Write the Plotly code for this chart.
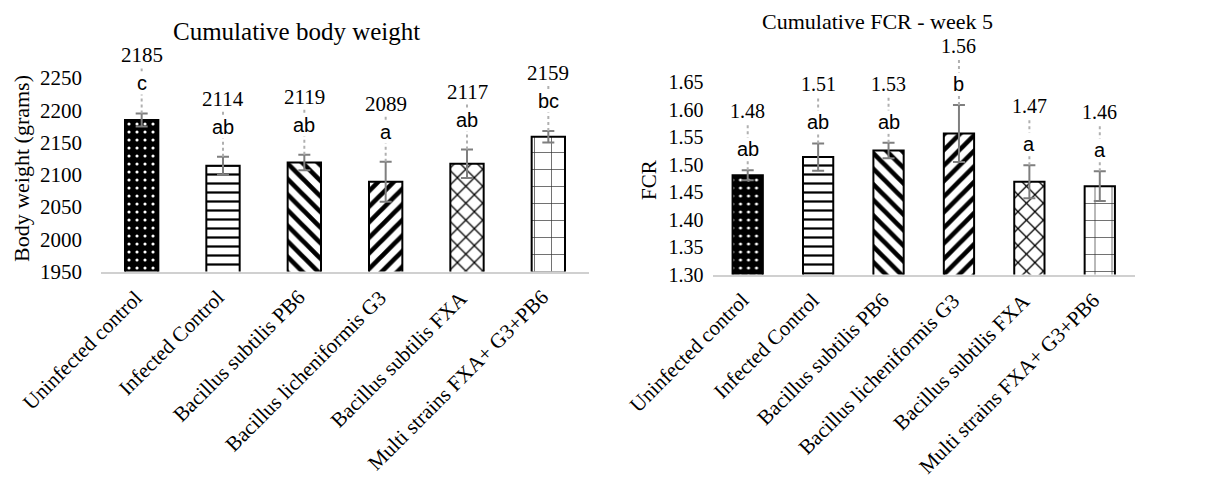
import plotly.graph_objects as go

# ---------------- data ----------------
categories = ["Uninfected control", "Infected Control", "Bacillus subtilis PB6",
              "Bacillus licheniformis G3", "Bacillus subtilis FXA", "Multi strains FXA+ G3+PB6"]

bw_mean = [2185, 2114, 2119, 2089, 2117, 2159]
bw_err = [10, 14, 12, 31, 22, 9]
bw_letters = ["c", "ab", "ab", "a", "ab", "bc"]
bw_ticks = [1950, 2000, 2050, 2100, 2150, 2200, 2250]

fcr_mean = [1.481, 1.514, 1.526, 1.557, 1.469, 1.461]
fcr_err = [0.009, 0.025, 0.014, 0.052, 0.030, 0.027]
fcr_letters = ["ab", "ab", "ab", "b", "a", "a"]
fcr_ticks = [1.30, 1.35, 1.40, 1.45, 1.50, 1.55, 1.60, 1.65]

# ---------------- styles ----------------
OFF = 8                      # page body margin of the html page
W, H = 1226 - OFF, 477 - OFF
SERIF = "Liberation Serif"
SANS = "Liberation Sans"


def px(X):
    return (X - OFF) / W


def py(Y):
    return 1 - (Y - OFF) / H


pat_shape = [".", "-", "\\", "/", "x", "+"]
pat_fg = ["white", "black", "black", "black", "black", "#333333"]
pat_bg = ["black", "white", "white", "white", "white", "white"]
pat_size = [8, 9, 11, 11, 12, 17]
pat_sol = [0.12, 0.25, 0.42, 0.42, 0.2, 0.08]

# pixel geometry of the two panels (reference picture pixels)
L_x0, L_x1, L_base, L_scale = 101, 589, 271.5, 0.645     # px/unit
R_x0, R_x1, R_base, R_scale = 712.5, 1135, 274.5, 548.6

L_range = [1950, 1950 + (L_base - OFF) / L_scale]
R_range = [1.30, 1.30 + (R_base - OFF) / R_scale]

fig = go.Figure()


def add_panel(means, errs, letters, xa, ya, scale, fmt, letter_px, value_px,
              barw, valsize):
    fig.add_trace(go.Bar(
        x=categories, y=means, xaxis=xa, yaxis=ya, width=barw,
        marker=dict(color="white", line=dict(color="black", width=2),
                    pattern=dict(shape=pat_shape, fgcolor=pat_fg, bgcolor=pat_bg,
                                 size=pat_size, solidity=pat_sol, fillmode="replace")),
        error_y=dict(type="data", array=errs, color="#7f7f7f", thickness=2, width=6),
        showlegend=False, hoverinfo="skip"))
    lx, ly = [], []
    for c, m, e, let in zip(categories, means, errs, letters):
        top = m + e
        y_let = top + letter_px / scale
        y_val = y_let + value_px / scale
        lx += [c, c, None]
        ly += [top, y_val - 13 / scale, None]
        fig.add_annotation(x=c, y=y_let, xref=xa, yref=ya, text=let, showarrow=False,
                           xanchor="center", yanchor="middle",
                           font=dict(family=SANS, size=20, color="black"),
                           bgcolor="white", borderpad=0)
        fig.add_annotation(x=c, y=y_val, xref=xa, yref=ya, text=fmt(m), showarrow=False,
                           xanchor="center", yanchor="middle",
                           font=dict(family=SERIF, size=valsize, color="black"))
        # rotated category label, its end placed at the category below the axis
        fig.add_annotation(x=c, y=0, xref=xa, yref=ya + " domain", text=c,
                           showarrow=False, textangle=-45,
                           xanchor="right", yanchor="top", xshift=8, yshift=-11,
                           font=dict(family=SERIF, size=21, color="black"))
    fig.add_trace(go.Scatter(x=lx, y=ly, xaxis=xa, yaxis=ya, mode="lines",
                             line=dict(color="#b0b0b0", width=2, dash="dot"),
                             showlegend=False, hoverinfo="skip"))


add_panel(bw_mean, bw_err, bw_letters, "x", "y", L_scale, lambda v: f"{v:.0f}", 30, 28, 0.41, 21)
add_panel(fcr_mean, fcr_err, fcr_letters, "x2", "y2", R_scale, lambda v: f"{v:.2f}", 21, 38, 0.43, 20)

xcommon = dict(type="category", showline=True, linecolor="#d0d0d0", linewidth=2,
               showgrid=False, zeroline=False, ticks="", showticklabels=False,
               automargin=False)
ycommon = dict(showline=False, showgrid=False, zeroline=False, ticks="",
               automargin=False)

fig.update_layout(
    width=W, height=H, template="none",
    paper_bgcolor="white", plot_bgcolor="rgba(0,0,0,0)",
    margin=dict(l=0, r=0, t=0, b=0),
    xaxis=dict(xcommon, domain=[px(L_x0), px(L_x1)], range=[-0.5, 5.5], anchor="y"),
    yaxis=dict(ycommon, domain=[py(L_base), 1.0], range=L_range, anchor="x",
               tickvals=bw_ticks, ticktext=[f"{t}" for t in bw_ticks],
               tickfont=dict(family=SERIF, size=21, color="black"),
               ticklabelstandoff=18),
    xaxis2=dict(xcommon, domain=[px(R_x0), px(R_x1)], range=[-0.5, 5.5], anchor="y2"),
    yaxis2=dict(ycommon, domain=[py(R_base), 1.0], range=R_range, anchor="x2",
                tickvals=fcr_ticks, ticktext=[f"{t:.2f}" for t in fcr_ticks],
                tickfont=dict(family=SERIF, size=20, color="black"),
                ticklabelstandoff=8),
)

# titles and axis titles
def label(X, Y, text, size, angle=0):
    fig.add_annotation(x=px(X), y=py(Y), xref="paper", yref="paper", text=text,
                       showarrow=False, xanchor="center", yanchor="middle",
                       textangle=angle, font=dict(family=SERIF, size=size, color="black"))


label(296, 32, "Cumulative body weight", 25)
label(877, 22, "Cumulative FCR - week 5", 22)
label(21, 169, "Body weight (grams)", 22, -90)
label(649, 180, "FCR", 21, -90)

fig.write_html("out.html")
